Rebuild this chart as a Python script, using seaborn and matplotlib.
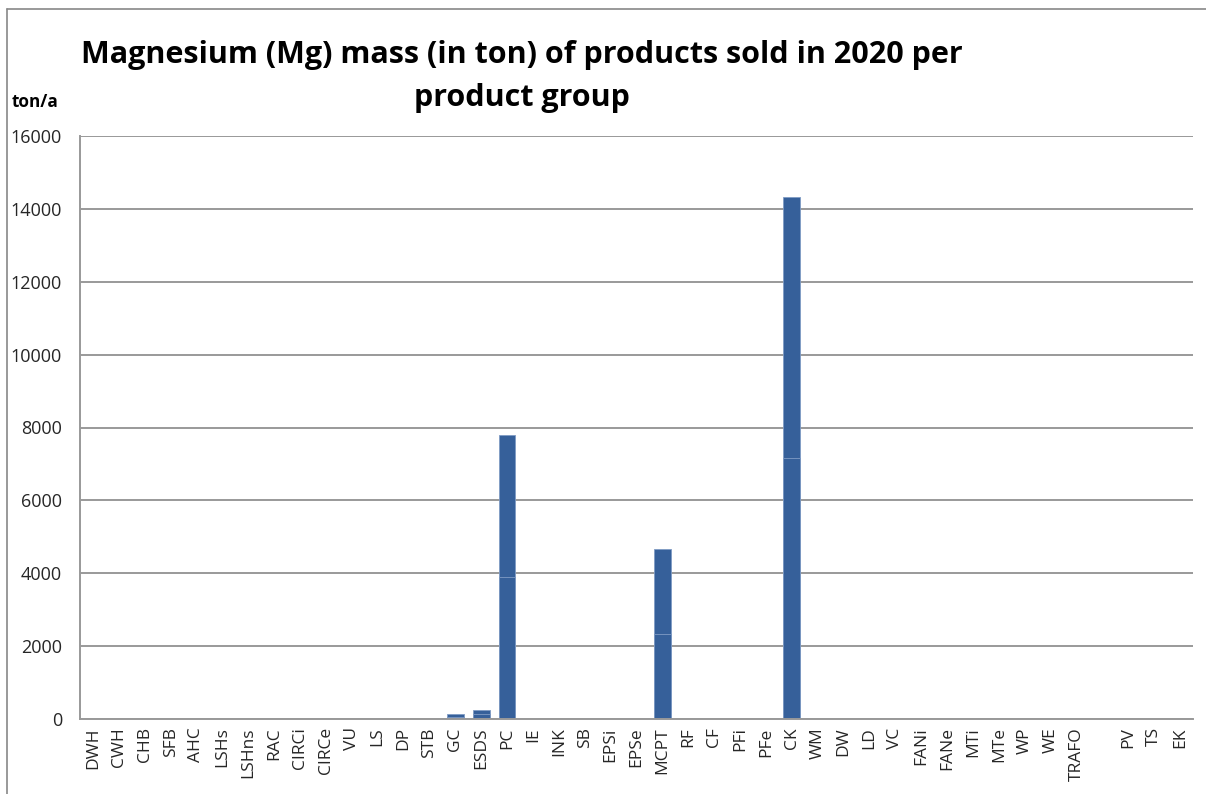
import matplotlib
matplotlib.use("Agg")
import matplotlib.pyplot as plt
import seaborn as sns
import pandas as pd
from matplotlib.lines import Line2D

categories = ["DWH", "CWH", "CHB", "SFB", "AHC", "LSHs", "LSHns", "RAC", "CIRCi", "CIRCe",
              "VU", "LS", "DP", "STB", "GC", "ESDS", "PC", "IE", "INK", "SB", "EPSi", "EPSe",
              "MCPT", "RF", "CF", "PFi", "PFe", "CK", "WM", "DW", "LD", "VC", "FANi", "FANe",
              "MTi", "MTe", "WP", "WE", "TRAFO", " ", "PV", "TS", "EK"]
series_lower = [0, 0, 0, 0, 0, 0, 0, 0, 0, 0,
                0, 0, 0, 0, 65, 125, 3900, 0, 0, 0, 0, 0,
                2330, 0, 0, 0, 0, 7160, 0, 0, 0, 0, 0, 0,
                0, 0, 0, 0, 0, 0, 0, 0, 0]
series_upper = [0, 0, 0, 0, 0, 0, 0, 0, 0, 0,
                0, 0, 0, 0, 65, 125, 3900, 0, 0, 0, 0, 0,
                2330, 0, 0, 0, 0, 7160, 0, 0, 0, 0, 0, 0,
                0, 0, 0, 0, 0, 0, 0, 0, 0]
y_ticks = [0, 2000, 4000, 6000, 8000, 10000, 12000, 14000, 16000]

df = pd.DataFrame({"cat": categories, "lower": series_lower, "upper": series_upper})
df["total"] = df["lower"] + df["upper"]

sns.set_theme(style="white")
plt.rcParams['font.family'] = ['Open Sans', 'DejaVu Sans']

fig = plt.figure(figsize=(12.06, 7.94), dpi=100)
ax = fig.add_axes([80/1206, 1-719/794, (1193-80)/1206, (719-136)/794])

bar_color = "#36609A"
edge = "#7F9BC4"
sns.barplot(data=df, x="cat", y="total", order=categories, color=bar_color,
            saturation=1, width=0.65, edgecolor=edge, linewidth=0.6, ax=ax)
sns.barplot(data=df, x="cat", y="lower", order=categories, color=bar_color,
            saturation=1, width=0.65, edgecolor=edge, linewidth=0.6, ax=ax)

ax.set_ylim(0, 16000)
ax.set_xlim(-0.5, len(categories) - 0.5)
ax.set_yticks(y_ticks)
ax.set_yticklabels([str(v) for v in y_ticks], fontsize=13)
ax.set_xticks(range(len(categories)))
ax.set_xticklabels(categories, rotation=90, fontsize=12.5)
ax.tick_params(axis="both", length=0)
ax.tick_params(axis="y", pad=13)
ax.tick_params(axis="x", pad=6)
ax.set_xlabel("")
ax.set_ylabel("")
ax.yaxis.grid(True, color="#999999", linewidth=1.4)
ax.set_axisbelow(True)
for s in ["top", "right"]:
    ax.spines[s].set_visible(False)
for s in ["left", "bottom"]:
    ax.spines[s].set_color("#999999")
    ax.spines[s].set_linewidth(1.4)

fig.text(522/1206, 1-55/794, "Magnesium (Mg) mass (in ton) of products sold in 2020 per",
         ha="center", va="center", fontsize=22, fontweight="bold", color="black")
fig.text(522/1206, 1-98/794, "product group",
         ha="center", va="center", fontsize=22, fontweight="bold", color="black")
fig.text(35/1206, 1-102/794, "ton/a", ha="center", va="center", fontsize=12.3,
         fontweight="bold", color="black")

bx = 6.5/1206
by = 1 - 9/794
fig.add_artist(Line2D([bx, 1.0], [by, by], transform=fig.transFigure,
                      color="#888888", linewidth=1.2))
fig.add_artist(Line2D([bx, bx], [0.0, by], transform=fig.transFigure,
                      color="#888888", linewidth=1.2))

fig.savefig("out.png", dpi=100)
